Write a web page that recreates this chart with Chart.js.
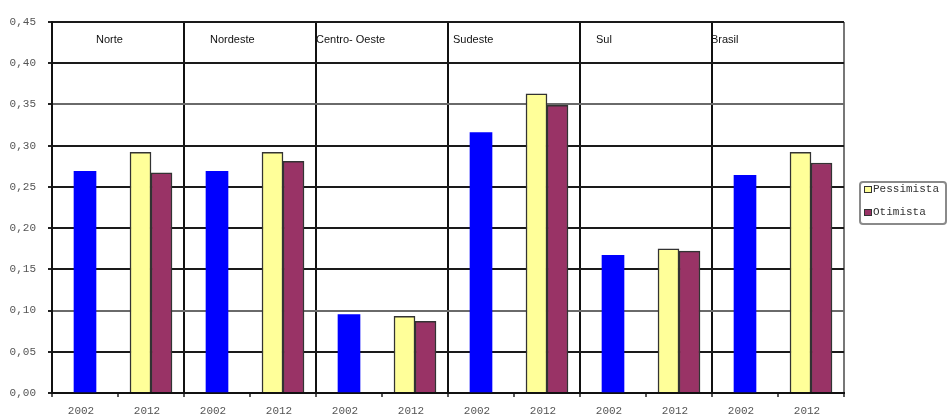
<!DOCTYPE html>
<html>
<head>
<meta charset="utf-8">
<script src="https://cdn.jsdelivr.net/npm/chart.js@4"></script>
<style>
html,body{margin:0;padding:0;background:#fff;}
canvas{display:block;}
</style>
</head>
<body>
<canvas id="c" width="949" height="414"></canvas>
<script>
// ---- data ----
const regions = ['Norte', 'Nordeste', 'Centro- Oeste', 'Sudeste', 'Sul', 'Brasil'];
const years = ['2002', '2012'];
const observado2002 = [0.269, 0.269, 0.095, 0.316, 0.167, 0.264];
const pessimista2012 = [0.292, 0.292, 0.093, 0.363, 0.175, 0.292];
const otimista2012 = [0.267, 0.281, 0.087, 0.349, 0.172, 0.279];
const yTicks = [0, 0.05, 0.10, 0.15, 0.20, 0.25, 0.30, 0.35, 0.40, 0.45];

// build category labels and per-category values
const categories = [];
const d2002 = [], dPess = [], dOtim = [];
regions.forEach((r, i) => {
  categories.push(years[0]); d2002.push(observado2002[i]); dPess.push(null); dOtim.push(null);
  categories.push(years[1]); d2002.push(null); dPess.push(pessimista2012[i]); dOtim.push(otimista2012[i]);
});

const regionLabelOffsets = [44, 26, 0, 5, 16, -1];

const overlay = {
  id: 'overlay',
  afterDraw(chart) {
    const ctx = chart.ctx;
    const x = chart.scales.x;
    const y = chart.scales.y;
    ctx.save();
    // region labels
    ctx.font = '11px "Liberation Sans", Arial, sans-serif';
    ctx.fillStyle = '#111';
    ctx.textBaseline = 'middle';
    ctx.textAlign = 'left';
    const half = (x.getPixelForValue(1) - x.getPixelForValue(0)) / 2;
    const ly = (y.getPixelForValue(yTicks[yTicks.length - 1]) + y.getPixelForValue(yTicks[yTicks.length - 2])) / 2 - 3;
    regions.forEach((r, i) => {
      const left = x.getPixelForValue(i * 2) - half;
      ctx.fillText(r, left + regionLabelOffsets[i], ly);
    });
    // legend
    ctx.strokeStyle = '#8a8a8a';
    ctx.lineWidth = 2;
    ctx.beginPath();
    if (ctx.roundRect) ctx.roundRect(860, 182, 86, 42, 3); else ctx.rect(860, 182, 86, 42);
    ctx.stroke();
    const items = [chart.data.datasets[1], chart.data.datasets[2]];
    ctx.font = '11px "Liberation Mono", "Courier New", monospace';
    items.forEach((ds, k) => {
      const cy = 189 + k * 23;
      ctx.fillStyle = ds.backgroundColor;
      ctx.fillRect(864, cy - 3, 8, 7);
      ctx.strokeStyle = '#333';
      ctx.lineWidth = 1;
      ctx.strokeRect(864.5, cy - 2.5, 7, 6);
      ctx.fillStyle = '#333';
      ctx.fillText(ds.label, 873, cy);
    });
    ctx.restore();
  }
};

new Chart(document.getElementById('c'), {
  type: 'bar',
  data: {
    labels: categories,
    datasets: [
      { label: '2002', data: d2002, backgroundColor: '#0000ff', borderWidth: 0, barThickness: 22 },
      { label: 'Pessimista', data: dPess, backgroundColor: '#ffff99', borderColor: '#333', borderWidth: 1.5, barThickness: 21 },
      { label: 'Otimista', data: dOtim, backgroundColor: '#993366', borderColor: '#333', borderWidth: 1.5, barThickness: 21 }
    ]
  },
  options: {
    responsive: false,
    animation: false,
    devicePixelRatio: 1,
    skipNull: true,
    datasets: { bar: { skipNull: true } },
    layout: { padding: { top: 22, right: 105, left: 0, bottom: 0 } },
    plugins: { legend: { display: false }, tooltip: { enabled: false } },
    scales: {
      x: {
        afterFit(s) { s.height = 21; },
        grid: {
          offset: true,
          lineWidth: 2,
          tickLength: 4,
          tickColor: '#222',
          tickWidth: 1.5,
          color(ctx) {
            if (ctx.type !== 'tick') return '#777';
            return ctx.index % 2 === 0 ? '#111' : 'rgba(0,0,0,0)';
          }
        },
        border: { display: true, color: '#111', width: 2 },
        ticks: {
          font: { family: '"Liberation Mono", "Courier New", monospace', size: 11 },
          color: '#555',
          padding: 7,
          labelOffset: -4,
          maxRotation: 0,
          autoSkip: false
        }
      },
      y: {
        min: 0,
        max: 0.45,
        afterFit(s) { s.width = 52; },
        afterBuildTicks(s) { s.ticks = yTicks.map(v => ({ value: v })); },
        grid: {
          lineWidth: 2,
          tickLength: 4,
          tickColor: '#222',
          color(ctx) {
            const v = ctx.tick ? Math.round(ctx.tick.value * 100) : -1;
            return (v === 35 || v === 10) ? '#6a6a6a' : '#1a1a1a';
          }
        },
        border: { display: true, color: '#111', width: 2 },
        ticks: {
          font: { family: '"Liberation Mono", "Courier New", monospace', size: 11 },
          color: '#555',
          padding: 12,
          callback(v) { return Number(v).toFixed(2).replace('.', ','); }
        }
      }
    }
  },
  plugins: [overlay]
});
</script>
</body>
</html>
